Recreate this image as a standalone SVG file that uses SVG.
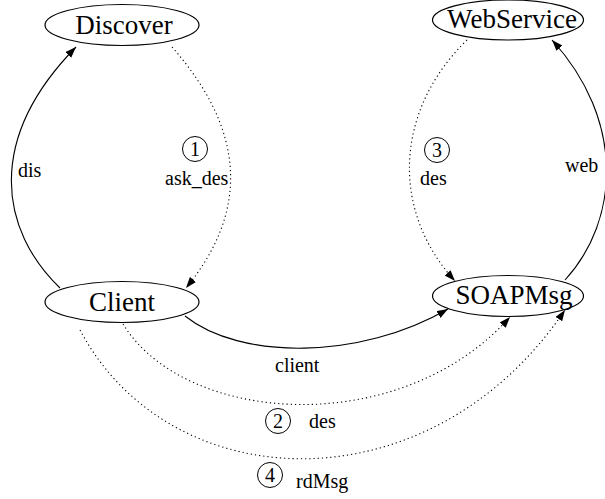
<svg xmlns="http://www.w3.org/2000/svg" width="605" height="499" viewBox="0 0 605 499">
  <style>
    .node ellipse { fill: #fff; stroke: #000; stroke-width: 1.2; }
    .node text { font-size: 27px; fill: #000; text-anchor: middle; }
    .edge { fill: none; stroke: #000; stroke-width: 1.1; marker-end: url(#arrow); }
    .dotted { stroke-dasharray: 1.2 3; }
    .lbl { font-size: 20px; fill: #000; }
    .num circle { fill: none; stroke: #000; stroke-width: 1; }
    .num text { font-size: 20px; fill: #000; text-anchor: middle; }
  </style>
  <defs>
    <marker id="arrow" markerUnits="userSpaceOnUse" markerWidth="12" markerHeight="9" refX="11" refY="4" orient="auto">
      <path d="M0,0 L11,4 L0,8 z" fill="#000"/>
    </marker>
  </defs>

  <rect width="605" height="499" fill="#fff"/>

  <g font-family="'Liberation Serif', 'DejaVu Serif', serif">
  <g id="connectors">
    <!-- Client -> Discover : dis -->
    <path class="edge" d="M60,288 C0,230 -15,140 76,47"/>
    <!-- Discover -> Client : ask_des -->
    <path class="edge dotted" d="M172,47 C245,130 250,210 186,288"/>
    <!-- WebService -> SOAPMsg : des -->
    <path class="edge dotted" d="M467,40 C395,110 390,210 455,281"/>
    <!-- SOAPMsg -> WebService : web -->
    <path class="edge" d="M565,280 C620,220 625,120 552,40"/>
    <!-- Client -> SOAPMsg : client -->
    <path class="edge" d="M185,316 C240,360 360,360 448,309"/>
    <!-- Client -> SOAPMsg : des -->
    <path class="edge dotted" d="M123,324 C185,425 400,440 510,317"/>
    <!-- Client -> SOAPMsg : rdMsg -->
    <path class="edge dotted" d="M80,330 C170,500 430,510 565,310"/>

    <text class="lbl" x="18" y="177">dis</text>
    <g class="num"><circle cx="195" cy="149" r="12.5"/><text x="195" y="156">1</text></g>
    <text class="lbl" x="165" y="185">ask_des</text>
    <g class="num"><circle cx="437" cy="150" r="12.5"/><text x="437" y="157">3</text></g>
    <text class="lbl" x="420" y="185">des</text>
    <text class="lbl" x="565" y="172">web</text>
    <text class="lbl" x="275" y="372">client</text>
    <g class="num"><circle cx="278" cy="421" r="12.5"/><text x="278" y="428">2</text></g>
    <text class="lbl" x="309" y="428">des</text>
    <g class="num"><circle cx="270" cy="475" r="12.5"/><text x="270" y="482">4</text></g>
    <text class="lbl" x="296" y="488">rdMsg</text>
  </g>

  <g id="Discover" class="node">
    <ellipse cx="122" cy="25" rx="77" ry="20.5"/>
    <text x="124" y="34">Discover</text>
  </g>
  <g id="WebService" class="node">
    <ellipse cx="508" cy="20" rx="75.5" ry="20"/>
    <text x="512" y="28">WebService</text>
  </g>
  <g id="Client" class="node">
    <ellipse cx="122" cy="302" rx="77" ry="20.5"/>
    <text x="122" y="311">Client</text>
  </g>
  <g id="SOAPMsg" class="node">
    <ellipse cx="508" cy="296" rx="75.5" ry="20.5"/>
    <text x="514" y="304">SOAPMsg</text>
  </g>
  </g>
</svg>
